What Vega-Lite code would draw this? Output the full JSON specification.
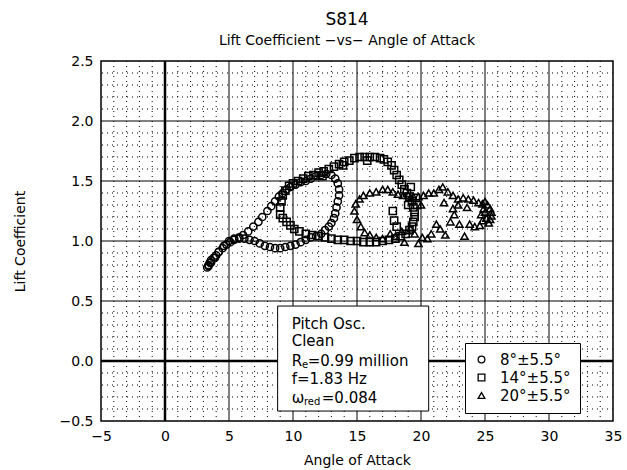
{
  "$schema": "https://vega.github.io/schema/vega-lite/v6.json",
  "width": 512,
  "height": 360,
  "padding": {"left": 13, "top": 11, "right": 10, "bottom": 5},
  "background": "white",
  "title": {"text": "S814", "subtitle": "Lift Coefficient −vs− Angle of Attack", "fontSize": 17, "fontWeight": "normal", "subtitleFontSize": 14, "subtitlePadding": 5, "offset": 5, "dx": -10, "color": "black", "subtitleColor": "black", "font": "DejaVu Sans", "subtitleFont": "DejaVu Sans"},
  "config": {
    "view": {"stroke": "black", "strokeWidth": 1.5},
    "font": "DejaVu Sans",
    "axis": {"grid": false, "labelFlush": false, "labelColor": "black", "titleColor": "black", "labelFontSize": 14, "titleFontSize": 14, "titleFontWeight": "normal", "labelFont": "DejaVu Sans", "titleFont": "DejaVu Sans", "ticks": false, "domain": false, "labelOverlap": false}
  },
  "datasets": {
    "c8": [
      {"a":3.3,"c":0.78},{"a":3.4,"c":0.8},{"a":3.5,"c":0.82},{"a":3.6,"c":0.84},{"a":3.8,"c":0.86},{"a":4.0,"c":0.88},{"a":4.2,"c":0.91},{"a":4.5,"c":0.94},{"a":4.8,"c":0.97},{"a":5.1,"c":0.99},{"a":5.4,"c":1.01},{"a":5.8,"c":1.03},{"a":6.1,"c":1.05},{"a":6.5,"c":1.08},{"a":6.9,"c":1.12},{"a":7.3,"c":1.16},{"a":7.6,"c":1.2},{"a":8.0,"c":1.25},{"a":8.3,"c":1.29},{"a":8.6,"c":1.33},{"a":8.9,"c":1.37},{"a":9.2,"c":1.4},{"a":9.5,"c":1.43},{"a":9.8,"c":1.45},{"a":10.2,"c":1.47},{"a":10.6,"c":1.49},{"a":11.0,"c":1.5},{"a":11.4,"c":1.52},{"a":11.8,"c":1.54},{"a":12.2,"c":1.55},{"a":12.6,"c":1.56},{"a":13.0,"c":1.55},{"a":13.3,"c":1.52},{"a":13.5,"c":1.48},{"a":13.6,"c":1.43},{"a":13.6,"c":1.38},{"a":13.5,"c":1.33},{"a":13.4,"c":1.28},{"a":13.3,"c":1.23},{"a":13.2,"c":1.19},{"a":13.0,"c":1.15},{"a":12.8,"c":1.12},{"a":12.5,"c":1.09},{"a":12.2,"c":1.06},{"a":11.8,"c":1.04},{"a":11.4,"c":1.03},{"a":11.0,"c":1.01},{"a":10.6,"c":0.99},{"a":10.2,"c":0.97},{"a":9.8,"c":0.96},{"a":9.4,"c":0.95},{"a":9.0,"c":0.94},{"a":8.6,"c":0.94},{"a":8.2,"c":0.95},{"a":7.8,"c":0.96},{"a":7.4,"c":0.98},{"a":7.0,"c":1.0},{"a":6.6,"c":1.01},{"a":6.2,"c":1.02},{"a":5.8,"c":1.02},{"a":5.4,"c":1.02},{"a":5.0,"c":1.0},{"a":4.6,"c":0.96},{"a":4.2,"c":0.91},{"a":3.9,"c":0.86},{"a":3.6,"c":0.82},{"a":3.4,"c":0.79}
    ],
    "c14": [
      {"a":9.0,"c":1.22},{"a":9.0,"c":1.28},{"a":9.1,"c":1.33},{"a":9.2,"c":1.38},{"a":9.4,"c":1.42},{"a":9.7,"c":1.46},{"a":10.0,"c":1.48},{"a":10.4,"c":1.5},{"a":10.8,"c":1.52},{"a":11.2,"c":1.54},{"a":11.6,"c":1.55},{"a":12.0,"c":1.57},{"a":12.4,"c":1.58},{"a":12.8,"c":1.6},{"a":13.2,"c":1.62},{"a":13.6,"c":1.64},{"a":14.0,"c":1.66},{"a":14.4,"c":1.67},{"a":14.8,"c":1.69},{"a":15.2,"c":1.7},{"a":15.6,"c":1.7},{"a":16.0,"c":1.7},{"a":16.4,"c":1.7},{"a":16.8,"c":1.69},{"a":17.1,"c":1.68},{"a":17.4,"c":1.66},{"a":17.7,"c":1.63},{"a":17.9,"c":1.59},{"a":18.1,"c":1.55},{"a":18.3,"c":1.51},{"a":18.5,"c":1.47},{"a":18.7,"c":1.43},{"a":18.9,"c":1.4},{"a":19.1,"c":1.37},{"a":19.3,"c":1.33},{"a":19.4,"c":1.28},{"a":19.5,"c":1.24},{"a":19.5,"c":1.2},{"a":19.4,"c":1.16},{"a":19.3,"c":1.12},{"a":19.1,"c":1.09},{"a":18.8,"c":1.06},{"a":18.4,"c":1.04},{"a":18.0,"c":1.02},{"a":17.5,"c":1.01},{"a":17.0,"c":1.0},{"a":16.5,"c":0.99},{"a":16.0,"c":0.99},{"a":15.5,"c":0.99},{"a":15.0,"c":1.0},{"a":14.5,"c":1.0},{"a":14.0,"c":1.01},{"a":13.5,"c":1.01},{"a":13.0,"c":1.02},{"a":12.5,"c":1.03},{"a":12.0,"c":1.04},{"a":11.5,"c":1.05},{"a":11.0,"c":1.06},{"a":10.5,"c":1.08},{"a":10.1,"c":1.1},{"a":9.8,"c":1.13},{"a":9.5,"c":1.16},{"a":9.2,"c":1.19},{"a":17.9,"c":1.17},{"a":18.1,"c":1.12},{"a":17.8,"c":1.25},{"a":19.0,"c":1.3},{"a":19.2,"c":1.45},{"a":19.7,"c":1.3},{"a":19.6,"c":1.36},{"a":15.8,"c":1.67},{"a":13.9,"c":1.63},{"a":12.3,"c":1.54}
    ],
    "c20": [
      {"a":14.8,"c":1.25},{"a":14.9,"c":1.31},{"a":15.2,"c":1.35},{"a":15.5,"c":1.38},{"a":16.0,"c":1.4},{"a":16.5,"c":1.41},{"a":17.0,"c":1.43},{"a":17.4,"c":1.43},{"a":17.8,"c":1.41},{"a":18.2,"c":1.39},{"a":18.6,"c":1.38},{"a":19.0,"c":1.38},{"a":19.4,"c":1.37},{"a":19.8,"c":1.37},{"a":20.2,"c":1.38},{"a":20.6,"c":1.4},{"a":21.0,"c":1.4},{"a":21.4,"c":1.43},{"a":21.7,"c":1.45},{"a":22.1,"c":1.41},{"a":22.5,"c":1.38},{"a":22.9,"c":1.35},{"a":23.3,"c":1.36},{"a":23.7,"c":1.35},{"a":24.1,"c":1.34},{"a":24.5,"c":1.32},{"a":24.8,"c":1.31},{"a":25.0,"c":1.33},{"a":25.2,"c":1.3},{"a":25.4,"c":1.27},{"a":25.5,"c":1.24},{"a":25.5,"c":1.21},{"a":25.4,"c":1.18},{"a":25.3,"c":1.15},{"a":25.1,"c":1.19},{"a":25.0,"c":1.24},{"a":24.9,"c":1.27},{"a":24.7,"c":1.22},{"a":24.8,"c":1.17},{"a":24.6,"c":1.13},{"a":24.2,"c":1.12},{"a":23.8,"c":1.14},{"a":23.4,"c":1.04},{"a":23.0,"c":1.14},{"a":22.6,"c":1.22},{"a":22.3,"c":1.16},{"a":21.9,"c":1.05},{"a":21.5,"c":1.1},{"a":21.2,"c":1.14},{"a":20.8,"c":1.06},{"a":20.5,"c":1.02},{"a":20.1,"c":1.03},{"a":19.8,"c":0.98},{"a":19.5,"c":1.06},{"a":19.2,"c":1.1},{"a":18.7,"c":0.99},{"a":18.5,"c":1.08},{"a":18.0,"c":1.04},{"a":17.6,"c":1.06},{"a":17.0,"c":1.02},{"a":16.5,"c":1.03},{"a":16.0,"c":1.05},{"a":15.6,"c":1.07},{"a":15.3,"c":1.12},{"a":15.0,"c":1.18},{"a":21.8,"c":1.32},{"a":22.9,"c":1.3},{"a":23.6,"c":1.28},{"a":22.5,"c":1.27},{"a":20.0,"c":1.3}
    ]
  },
  "layer": [
    {
      "data": {"values": [{"v":-4},{"v":-3},{"v":-2},{"v":-1},{"v":1},{"v":2},{"v":3},{"v":4},{"v":6},{"v":7},{"v":8},{"v":9},{"v":11},{"v":12},{"v":13},{"v":14},{"v":16},{"v":17},{"v":18},{"v":19},{"v":21},{"v":22},{"v":23},{"v":24},{"v":26},{"v":27},{"v":28},{"v":29},{"v":31},{"v":32},{"v":33},{"v":34}]},
      "mark": {"type": "rule", "color": "black", "strokeWidth": 1, "strokeDash": [1, 4]},
      "encoding": {
        "x": {"field": "v", "type": "quantitative", "scale": {"domain": [-5, 35], "nice": false, "zero": false},
          "axis": {"title": "Angle of Attack", "titlePadding": 10, "labelPadding": 8, "values": [-5, 0, 5, 10, 15, 20, 25, 30, 35]}}
      }
    },
    {
      "data": {"values": [{"v":-0.4},{"v":-0.3},{"v":-0.2},{"v":-0.1},{"v":0.1},{"v":0.2},{"v":0.3},{"v":0.4},{"v":0.6},{"v":0.7},{"v":0.8},{"v":0.9},{"v":1.1},{"v":1.2},{"v":1.3},{"v":1.4},{"v":1.6},{"v":1.7},{"v":1.8},{"v":1.9},{"v":2.1},{"v":2.2},{"v":2.3},{"v":2.4}]},
      "mark": {"type": "rule", "color": "black", "strokeWidth": 1, "strokeDash": [1, 4]},
      "encoding": {
        "y": {"field": "v", "type": "quantitative", "scale": {"domain": [-0.5, 2.5], "nice": false, "zero": false},
          "axis": {"title": "Lift Coefficient", "titlePadding": 32, "labelPadding": 8, "format": ".1f", "values": [-0.5, 0, 0.5, 1, 1.5, 2, 2.5]}}
      }
    },
    {
      "data": {"values": [{"v":5},{"v":10},{"v":15},{"v":20},{"v":25},{"v":30}]},
      "mark": {"type": "rule", "color": "black", "strokeWidth": 1},
      "encoding": {"x": {"field": "v", "type": "quantitative"}}
    },
    {
      "data": {"values": [{"v":0.5},{"v":1.0},{"v":1.5},{"v":2.0}]},
      "mark": {"type": "rule", "color": "black", "strokeWidth": 1},
      "encoding": {"y": {"field": "v", "type": "quantitative"}}
    },
    {
      "data": {"values": [{"v":0}]},
      "mark": {"type": "rule", "color": "black", "strokeWidth": 2.5},
      "encoding": {"x": {"field": "v", "type": "quantitative"}}
    },
    {
      "data": {"values": [{"v":0}]},
      "mark": {"type": "rule", "color": "black", "strokeWidth": 2.5},
      "encoding": {"y": {"field": "v", "type": "quantitative"}}
    },
    {
      "data": {"values": [{"x1": 8.8, "x2": 20.6, "y1": -0.417, "y2": 0.458}]},
      "mark": {"type": "rect", "fill": "white", "stroke": "black", "strokeWidth": 1},
      "encoding": {
        "x": {"field": "x1", "type": "quantitative"},
        "x2": {"field": "x2"},
        "y": {"field": "y1", "type": "quantitative"},
        "y2": {"field": "y2"}
      }
    },
    {
      "data": {"name": "c8"},
      "mark": {"type": "point", "filled": false, "color": "black", "size": 52, "strokeWidth": 1.5, "opacity": 1},
      "encoding": {
        "x": {"field": "a", "type": "quantitative"},
        "y": {"field": "c", "type": "quantitative"},
        "shape": {"datum": "8°±5.5°", "type": "nominal",
          "scale": {"domain": ["8°±5.5°", "14°±5.5°", "20°±5.5°"], "range": ["circle", "square", "triangle-up"]},
          "legend": {"title": null, "orient": "none", "legendX": 364, "legendY": 282, "strokeColor": "black", "fillColor": "white", "padding": 9, "labelFontSize": 15, "labelColor": "black", "labelFont": "DejaVu Sans", "symbolSize": 45, "symbolStrokeWidth": 1.3, "symbolStrokeColor": "black", "rowPadding": 2, "labelOffset": 11, "offset": 0}}
      }
    },
    {
      "data": {"name": "c14"},
      "mark": {"type": "point", "filled": false, "color": "black", "size": 52, "strokeWidth": 1.5, "opacity": 1},
      "encoding": {
        "x": {"field": "a", "type": "quantitative"},
        "y": {"field": "c", "type": "quantitative"},
        "shape": {"datum": "14°±5.5°", "type": "nominal"}
      }
    },
    {
      "data": {"name": "c20"},
      "mark": {"type": "point", "filled": false, "color": "black", "size": 52, "strokeWidth": 1.5, "opacity": 1},
      "encoding": {
        "x": {"field": "a", "type": "quantitative"},
        "y": {"field": "c", "type": "quantitative"},
        "shape": {"datum": "20°±5.5°", "type": "nominal"}
      }
    },
    {
      "data": {"values": [
        {"x": 9.9, "y": 0.308, "t": "Pitch Osc."},
        {"x": 9.9, "y": 0.167, "t": "Clean"},
        {"x": 9.9, "y": 0.0, "t": "R"},
        {"x": 11.15, "y": 0.0, "t": "=0.99 million"},
        {"x": 9.9, "y": -0.15, "t": "f=1.83 Hz"},
        {"x": 9.9, "y": -0.308, "t": "ω"},
        {"x": 12.25, "y": -0.308, "t": "=0.084"}
      ]},
      "mark": {"type": "text", "align": "left", "baseline": "middle", "fontSize": 15, "color": "black", "font": "DejaVu Sans"},
      "encoding": {
        "x": {"field": "x", "type": "quantitative"},
        "y": {"field": "y", "type": "quantitative"},
        "text": {"field": "t"}
      }
    },
    {
      "data": {"values": [
        {"x": 10.7, "y": 0.0, "t": "e"},
        {"x": 10.85, "y": -0.308, "t": "red"}
      ]},
      "mark": {"type": "text", "align": "left", "baseline": "middle", "fontSize": 10, "dy": 4, "color": "black", "font": "DejaVu Sans"},
      "encoding": {
        "x": {"field": "x", "type": "quantitative"},
        "y": {"field": "y", "type": "quantitative"},
        "text": {"field": "t"}
      }
    }
  ]
}
